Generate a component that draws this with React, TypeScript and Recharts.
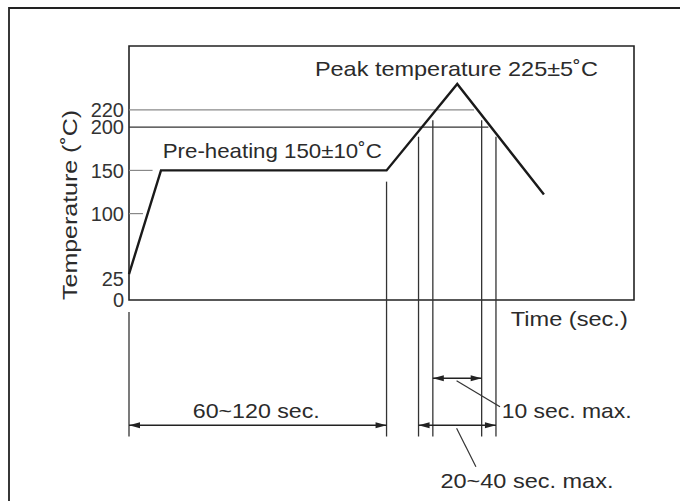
import React from 'react';
import { LineChart, Line, XAxis, YAxis, ReferenceLine, ReferenceArea, ReferenceDot } from 'recharts';

// reflow profile: time (sec., axis has no numbers) vs temperature (˚C)
const profileTime = [0, 19, 153, 195, 246.5];
const profileTemp = [30, 150, 150, 250, 122];

const tempTicks = [0, 25, 100, 150, 200, 220];

const levelTemps = [220, 200];

const notes = [
  'Peak temperature 225±5˚C',
  'Pre-heating 150±10˚C',
  '60~120 sec.',
  '10 sec. max.',
  '20~40 sec. max.',
  'Time (sec.)',
];
const yTitle = 'Temperature (˚C)';

const data = profileTime.map((t, i) => ({ t, temp: profileTemp[i] }));

// --- layout (data units, placed through the chart scales) ---
const levelEnds = [205, 213.5];
const levelColors = ['#8a8a8a', '#333'];
const dropTimes = [0, 153, 172, 180.5, 209.5, 218];
const dropTops = [-14, 137, 189, 208, 208, 189];
const dropBottom = -158;
const noteSpots = [
  { t: 194.5, v: 259.3, w: 283, a: 'middle' },
  { t: 85.1, v: 164.4, w: 219, a: 'middle' },
  { t: 75.6, v: -137, w: 127, a: 'middle' },
  { t: 221.4, v: -137, w: 130, a: 'start' },
  { t: 236.4, v: -218, w: 173, a: 'middle' },
  { t: 226.8, v: -30.1, w: 117, a: 'start' },
];

const ink = '#222';
const font = "'Liberation Sans', Arial, Helvetica, sans-serif";

const textAt = (label: string, width: number, anchor: string, angle = 0) => (p: any) => (
  <text
    x={p.cx}
    y={p.cy}
    textAnchor={anchor}
    textLength={width}
    lengthAdjust="spacingAndGlyphs"
    fontSize={21}
    fill="#2b2b2b"
    fontFamily={font}
    transform={angle ? `rotate(${angle} ${p.cx} ${p.cy})` : undefined}
  >
    {label}
  </text>
);

const arrowLine = (p: any) => {
  const { x1, y1, x2, y2 } = p;
  const len = 11;
  const half = 3;
  const dir = Math.sign(x2 - x1) || 1;
  return (
    <g>
      <line x1={x1} y1={y1} x2={x2} y2={y2} stroke={ink} strokeWidth={1.3} />
      <polygon points={`${x1},${y1} ${x1 + dir * len},${y1 - half} ${x1 + dir * len},${y1 + half}`} fill={ink} />
      <polygon points={`${x2},${y2} ${x2 - dir * len},${y2 - half} ${x2 - dir * len},${y2 + half}`} fill={ink} />
    </g>
  );
};

// outer frame of the figure: only its top and left edges fall inside the picture
const framePath = (p: any) => {
  const { x, y } = p;
  return (
    <path d={`M${x - 120},501 L${x - 120},${y - 38} L680,${y - 38}`} fill="none" stroke={ink} strokeWidth={1.8} />
  );
};

export default function App() {
  return (
    <div style={{ position: 'fixed', left: 0, top: 0, width: 680, height: 501, background: '#fff' }}>
      <LineChart width={680} height={501} data={data} margin={{ top: 46, right: 46, bottom: 201, left: 69 }}>
        <XAxis dataKey="t" type="number" domain={[0, 300]} hide />
        <YAxis
          type="number"
          domain={[0, 294]}
          ticks={tempTicks}
          interval={0}
          axisLine={false}
          tickLine={false}
          tickSize={4}
          tickMargin={1}
          width={60}
          tick={{ fontSize: 20, fill: '#333', fontFamily: font }}
        />
        <ReferenceArea x1={0} x2={300} y1={0} y2={294} fill="none" stroke={ink} strokeWidth={1.6} fillOpacity={0} />
        <ReferenceArea x1={0} x2={300} y1={0} y2={294} fillOpacity={0} shape={framePath} />

        {levelTemps.map((v, i) => (
          <ReferenceLine
            key={`lvl${v}`}
            segment={[{ x: 0, y: v }, { x: levelEnds[i], y: v }]}
            stroke={levelColors[i]}
            strokeWidth={1.3}
          />
        ))}
        <ReferenceLine segment={[{ x: 0, y: 150 }, { x: 14, y: 150 }]} stroke="#888" strokeWidth={1.2} />
        <ReferenceLine segment={[{ x: 0, y: 100 }, { x: 8.3, y: 100 }]} stroke="#888" strokeWidth={1.2} />

        {dropTimes.map((t, i) => (
          <ReferenceLine
            key={`drop${i}`}
            segment={[{ x: t, y: dropTops[i] }, { x: t, y: dropBottom }]}
            stroke="#333"
            strokeWidth={1.3}
            ifOverflow="visible"
          />
        ))}

        <ReferenceLine segment={[{ x: 0, y: -145 }, { x: 153, y: -145 }]} ifOverflow="visible" shape={arrowLine} />
        <ReferenceLine segment={[{ x: 172, y: -145 }, { x: 218, y: -145 }]} ifOverflow="visible" shape={arrowLine} />
        <ReferenceLine segment={[{ x: 180.5, y: -90.6 }, { x: 209.5, y: -90.6 }]} ifOverflow="visible" shape={arrowLine} />
        <ReferenceLine
          segment={[{ x: 194.6, y: -93.4 }, { x: 220.4, y: -123.5 }]}
          ifOverflow="visible"
          stroke="#333"
          strokeWidth={1.2}
        />
        <ReferenceLine
          segment={[{ x: 194.6, y: -148.5 }, { x: 206.1, y: -192.9 }]}
          ifOverflow="visible"
          stroke="#333"
          strokeWidth={1.2}
        />

        <Line
          type="linear"
          dataKey="temp"
          stroke="#1a1a1a"
          strokeWidth={2.4}
          dot={false}
          activeDot={false}
          isAnimationActive={false}
        />

        {notes.map((label, i) => (
          <ReferenceDot
            key={label}
            x={noteSpots[i].t}
            y={noteSpots[i].v}
            r={0}
            ifOverflow="visible"
            shape={textAt(label, noteSpots[i].w, noteSpots[i].a)}
          />
        ))}
        <ReferenceDot x={-30.9} y={110} r={0} ifOverflow="visible" shape={textAt(yTitle, 190, 'middle', -90)} />
      </LineChart>
    </div>
  );
}
